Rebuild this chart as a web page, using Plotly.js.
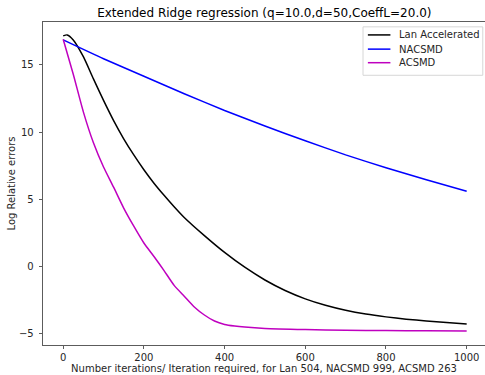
<!DOCTYPE html>
<html>
<head>
<meta charset="utf-8">
<script src="https://cdn.plot.ly/plotly-3.0.1.min.js"></script>
<style>
html,body{margin:0;padding:0;background:#fff;}
#chart{width:485px;height:375px;}
</style>
</head>
<body>
<div id="chart"></div>
<script>
// Lan Accelerated
const lanIter = [0, 10, 25, 50, 75, 100, 125, 150, 175, 200, 225, 250, 275, 300, 350, 400, 450, 500, 550, 600, 650, 700, 750, 800, 850, 900, 950, 1000];
const lanErr  = [17.15, 17.22, 16.85, 15.6, 13.95, 12.35, 10.85, 9.5, 8.3, 7.2, 6.2, 5.3, 4.45, 3.65, 2.3, 1.05, -0.05, -1.0, -1.78, -2.4, -2.88, -3.25, -3.53, -3.74, -3.91, -4.04, -4.16, -4.26];
// NACSMD
const nacIter = [0, 100, 200, 300, 400, 500, 600, 700, 800, 900, 1000];
const nacErr  = [16.85, 15.45, 14.15, 12.85, 11.6, 10.45, 9.35, 8.3, 7.35, 6.45, 5.6];
// ACSMD
const acIter = [0, 25, 50, 75, 100, 125, 150, 175, 200, 225, 250, 275, 300, 325, 350, 375, 400, 425, 450, 500, 600, 700, 800, 900, 1000];
const acErr  = [16.9, 14.3, 11.5, 9.2, 7.4, 5.9, 4.35, 3.0, 1.75, 0.75, -0.3, -1.4, -2.2, -3.0, -3.6, -4.05, -4.3, -4.42, -4.5, -4.6, -4.68, -4.73, -4.76, -4.78, -4.79];

const seriesNames = ["Lan Accelerated", "NACSMD", "ACSMD"];
const seriesColors = ["#000000", "#0000ff", "#bf00bf"];
const xTicks = [0, 200, 400, 600, 800, 1000];
const yTicks = [-5, 0, 5, 10, 15];

const font = "DejaVu Sans, sans-serif";
const txt = "#262626";
const mk = (x, y, i) => ({
  x: x, y: y, name: seriesNames[i], type: "scatter", mode: "lines", showlegend: false,
  line: {color: seriesColors[i], width: 1.5, shape: "spline", smoothing: 0.6}
});

const data = [mk(lanIter, lanErr, 0), mk(nacIter, nacErr, 1), mk(acIter, acErr, 2)];

// custom legend (paper coordinates)
const lgX0 = 0.724, lgX1 = 0.995, lgY0 = 0.835, lgY1 = 0.985;
const rowY = [0.960, 0.916, 0.874];
const shapes = [{type: "rect", xref: "paper", yref: "paper", x0: lgX0, x1: lgX1, y0: lgY0, y1: lgY1,
                 line: {color: "#d6d6d6", width: 1}, fillcolor: "rgba(255,255,255,0.8)", layer: "above"}];
const annotations = [];
seriesNames.forEach((n, i) => {
  shapes.push({type: "line", xref: "paper", yref: "paper", x0: 0.735, x1: 0.786, y0: rowY[i], y1: rowY[i],
               line: {color: seriesColors[i], width: 1.5}, layer: "above"});
  annotations.push({text: n, xref: "paper", yref: "paper", x: 0.800, y: rowY[i], xanchor: "left", yanchor: "middle",
                    showarrow: false, font: {family: font, size: 10, color: txt}});
});

const layout = {
  width: 485, height: 375,
  margin: {l: 43, r: 0, t: 22, b: 30},
  paper_bgcolor: "#fff", plot_bgcolor: "#fff",
  font: {family: font, size: 10, color: txt},
  title: {text: "Extended Ridge regression (q=10.0,d=50,CoeffL=20.0)", font: {family: font, size: 12, color: "#000"},
          x: 0.545, xanchor: "center", y: 1 - 12.5/375, yanchor: "middle", yref: "container"},
  showlegend: false,
  shapes: shapes,
  annotations: annotations,
  xaxis: {range: [-50, 1045.4], tickvals: xTicks, ticks: "outside", ticklen: 3.5, tickwidth: 0.8, tickcolor: "#333",
          showline: true, linecolor: "#333", linewidth: 0.8, mirror: true, showgrid: false, zeroline: false,
          tickfont: {family: font, size: 10, color: txt},
          title: {text: "Number iterations/ Iteration required, for Lan 504, NACSMD 999, ACSMD 263", font: {family: font, size: 10, color: txt}, standoff: 1}},
  yaxis: {range: [-5.83, 18.18], tickvals: yTicks, ticks: "outside", ticklen: 3.5, tickwidth: 0.8, tickcolor: "#333",
          showline: true, linecolor: "#333", linewidth: 0.8, mirror: false, showgrid: false, zeroline: false,
          tickfont: {family: font, size: 10, color: txt}, ticklabelstandoff: 3,
          title: {text: "Log Relative errors", font: {family: font, size: 10, color: txt}, standoff: 1}}
};

Plotly.newPlot("chart", data, layout, {displayModeBar: false, staticPlot: true});
</script>
</body>
</html>
